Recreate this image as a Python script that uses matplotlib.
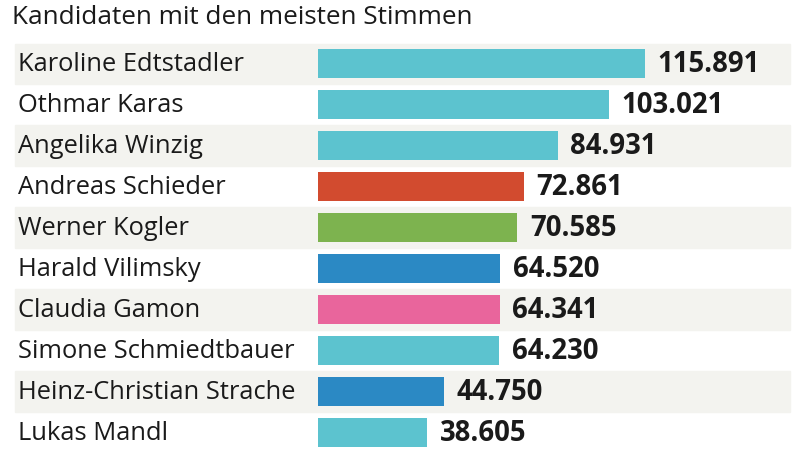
import matplotlib.pyplot as plt
from matplotlib.patches import Rectangle
from matplotlib.transforms import blended_transform_factory

plt.rcParams['font.family'] = ['Open Sans', 'DejaVu Sans']

names = ['Karoline Edtstadler', 'Othmar Karas', 'Angelika Winzig', 'Andreas Schieder',
         'Werner Kogler', 'Harald Vilimsky', 'Claudia Gamon', 'Simone Schmiedtbauer',
         'Heinz-Christian Strache', 'Lukas Mandl']
votes = [115891, 103021, 84931, 72861, 70585, 64520, 64341, 64230, 44750, 38605]
labels = ['115.891', '103.021', '84.931', '72.861', '70.585', '64.520', '64.341',
          '64.230', '44.750', '38.605']
colors = ['#5cc3cf', '#5cc3cf', '#5cc3cf', '#d24b2f', '#7db34f', '#2b89c4',
          '#e9659c', '#5cc3cf', '#2b89c4', '#5cc3cf']

W, H = 800, 452
fig = plt.figure(figsize=(W / 100, H / 100), dpi=100)
fig.patch.set_facecolor('white')

# axes starts where the bars start
ax = fig.add_axes([318 / W, 0, (W - 318) / W, 1 - 44.5 / H])
ax.set_xlim(0, (W - 318) / 327 * votes[0])
ax.set_ylim(9.46, -0.5)
ax.axis('off')

trans = blended_transform_factory(fig.transFigure, ax.transData)

for i, (n, v, lab, c) in enumerate(zip(names, votes, labels, colors)):
    if i % 2 == 0:
        ax.add_patch(Rectangle((15 / W, i - 0.5), 775 / W, 1.0, transform=trans,
                               color='#f3f3ef', zorder=0, clip_on=False))
    ax.barh(i, v, height=0.71, color=c, zorder=2)
    ax.text(18 / W, i, n, transform=trans, va='center', ha='left',
            fontsize=18.4, color='#1a1a1a')
    ax.text(v + 4500, i, lab, va='center', ha='left', fontsize=19.8,
            fontweight='bold', color='#1a1a1a')

fig.text(12 / W, 1 - 18 / H, 'Kandidaten mit den meisten Stimmen', va='center',
         ha='left', fontsize=18.8, color='#1a1a1a')

fig.savefig('out.png', dpi=100)
